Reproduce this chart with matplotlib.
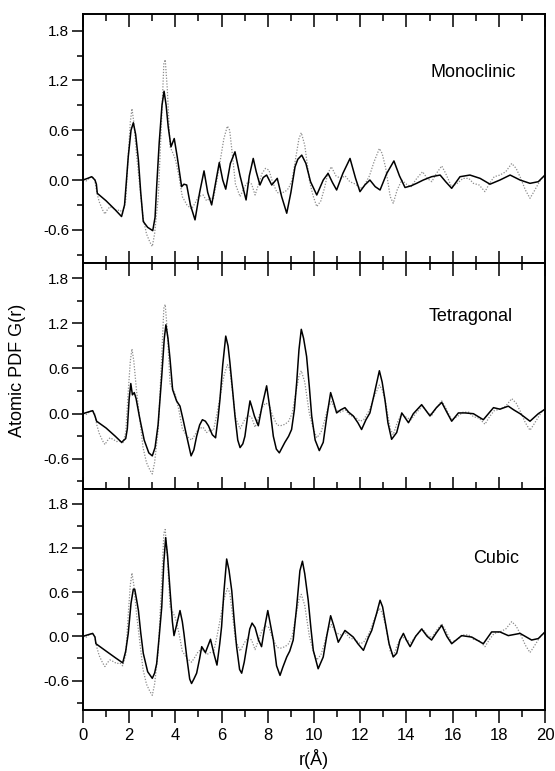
import matplotlib
matplotlib.use("Agg")
import matplotlib.pyplot as plt
from matplotlib.ticker import MultipleLocator

plt.rcParams['font.family'] = ['Liberation Sans', 'DejaVu Sans']
plt.rcParams['axes.unicode_minus'] = False

# experimental PDF (same data in all three panels)
r_exp = [0.0, 0.15, 0.3, 0.4, 0.5, 0.6, 0.7, 0.85, 0.95, 1.05, 1.17, 1.3, 1.46, 1.6, 1.72,
         1.85, 1.96, 2.05, 2.12, 2.2, 2.32, 2.45, 2.6, 2.75, 2.9, 3.0, 3.1, 3.26, 3.4, 3.5,
         3.56, 3.65, 3.77, 3.9, 4.0, 4.15, 4.3, 4.5, 4.7, 4.85, 5.0, 5.2, 5.35, 5.5, 5.65,
         5.8, 5.95, 6.1, 6.25, 6.35, 6.45, 6.6, 6.8, 7.0, 7.15, 7.3, 7.45, 7.6, 7.75, 7.9,
         8.05, 8.2, 8.4, 8.55, 8.75, 8.9, 9.05, 9.2, 9.35, 9.45, 9.6, 9.8, 9.95, 10.12,
         10.3, 10.45, 10.6, 10.75, 10.95, 11.15, 11.35, 11.55, 11.8, 12.0, 12.15, 12.4, 12.6,
         12.83, 12.95, 13.1, 13.3, 13.43, 13.6, 13.8, 14.0, 14.2, 14.45, 14.7, 14.9, 15.1,
         15.3, 15.53, 15.7, 15.95, 16.2, 16.45, 16.7, 16.9, 17.15, 17.4, 17.6, 17.8, 18.05,
         18.3, 18.56, 18.75, 18.95, 19.15, 19.35, 19.5, 19.7, 19.85, 20.0]
g_exp = [0.0, -0.01, 0.03, 0.04, 0.01, -0.15, -0.26, -0.36, -0.41, -0.36, -0.32, -0.34, -0.37,
         -0.36, -0.40, -0.25, 0.30, 0.70, 0.86, 0.70, 0.30, -0.05, -0.45, -0.65, -0.75, -0.80,
         -0.65, -0.20, 0.70, 1.40, 1.45, 1.10, 0.40, 0.32, 0.25, 0.05, -0.20, -0.30, -0.35,
         -0.28, -0.20, -0.18, -0.25, -0.22, -0.22, 0.0, 0.25, 0.50, 0.65, 0.60, 0.35, -0.05,
         -0.20, -0.08, -0.02, -0.05, -0.18, -0.05, 0.08, 0.14, 0.12, -0.02, -0.15, -0.16,
         -0.14, -0.10, 0.0, 0.25, 0.50, 0.57, 0.42, 0.0, -0.18, -0.32, -0.25, -0.10, 0.08,
         0.16, 0.05, 0.02, 0.05, -0.02, -0.05, -0.10, -0.08, 0.05, 0.22, 0.38, 0.32, 0.15,
         -0.20, -0.28, -0.12, 0.0, -0.05, -0.08, 0.02, 0.10, 0.02, -0.02, 0.08, 0.17, 0.08,
         -0.08, -0.04, 0.02, 0.02, -0.04, -0.06, -0.14, -0.04, 0.04, 0.06, 0.10, 0.20, 0.14,
         0.02, -0.12, -0.22, -0.15, -0.05, 0.02, 0.06]

# model fits
r_mono = [0.0, 0.2, 0.38, 0.52, 0.58, 0.62, 1.0, 1.4, 1.67, 1.8, 1.96, 2.08, 2.18, 2.28, 2.4,
          2.5, 2.61, 2.8, 3.02, 3.12, 3.19, 3.3, 3.42, 3.51, 3.6, 3.69, 3.81, 3.95, 4.08, 4.27,
          4.37, 4.49, 4.65, 4.85, 5.05, 5.24, 5.4, 5.57, 5.75, 5.9, 6.05, 6.18, 6.38, 6.58,
          6.8, 7.06, 7.2, 7.37, 7.5, 7.66, 7.8, 7.95, 8.17, 8.41, 8.6, 8.82, 9.0, 9.18, 9.3,
          9.47, 9.65, 9.85, 10.12, 10.4, 10.61, 10.8, 10.98, 11.25, 11.56, 11.8, 11.99, 12.2,
          12.42, 12.65, 12.86, 13.15, 13.46, 13.7, 13.94, 14.2, 14.44, 14.73, 15.09, 15.46,
          15.7, 15.96, 16.32, 16.75, 17.19, 17.62, 18.05, 18.49, 18.92, 19.35, 19.71, 20.0]
g_mono = [0.0, 0.02, 0.04, 0.0, -0.05, -0.16, -0.25, -0.36, -0.44, -0.30, 0.28, 0.60, 0.69,
          0.55, 0.24, -0.15, -0.50, -0.57, -0.61, -0.45, -0.08, 0.45, 0.90, 1.07, 0.90, 0.64,
          0.40, 0.50, 0.28, -0.08, -0.05, -0.06, -0.30, -0.48, -0.15, 0.11, -0.15, -0.30,
          -0.02, 0.21, 0.0, -0.11, 0.20, 0.34, 0.05, -0.24, 0.05, 0.26, 0.10, -0.06, 0.03,
          0.06, -0.06, 0.02, -0.20, -0.40, -0.15, 0.16, 0.25, 0.30, 0.20, -0.02, -0.18, 0.0,
          0.08, -0.03, -0.12, 0.08, 0.26, 0.02, -0.14, -0.06, 0.0, -0.08, -0.12, 0.08, 0.23,
          0.05, -0.09, -0.07, -0.04, 0.0, 0.04, 0.06, -0.02, -0.10, 0.04, 0.06, 0.02, -0.05,
          0.0, 0.06, 0.0, -0.04, -0.02, 0.06]

r_tetra = [0.0, 0.2, 0.42, 0.52, 0.59, 1.0, 1.4, 1.67, 1.85, 1.92, 2.0, 2.07, 2.14, 2.22, 2.3,
           2.45, 2.65, 2.85, 3.0, 3.12, 3.25, 3.41, 3.52, 3.59, 3.68, 3.77, 3.88, 4.05, 4.2,
           4.35, 4.49, 4.68, 4.8, 4.92, 5.05, 5.17, 5.3, 5.43, 5.6, 5.74, 5.85, 5.93, 6.05,
           6.18, 6.28, 6.36, 6.48, 6.58, 6.7, 6.8, 6.92, 7.01, 7.12, 7.23, 7.32, 7.42, 7.59,
           7.75, 7.95, 8.1, 8.24, 8.37, 8.5, 8.62, 8.74, 8.9, 9.03, 9.15, 9.25, 9.35, 9.45,
           9.55, 9.68, 9.8, 9.9, 10.05, 10.23, 10.4, 10.55, 10.72, 10.85, 10.98, 11.15, 11.34,
           11.5, 11.7, 11.9, 12.06, 12.25, 12.42, 12.6, 12.83, 12.95, 13.07, 13.2, 13.36,
           13.58, 13.8, 14.09, 14.3, 14.66, 15.02, 15.3, 15.53, 15.75, 15.96, 16.25, 16.54,
           16.9, 17.33, 17.77, 18.05, 18.41, 18.65, 18.92, 19.35, 19.71, 20.0]
g_tetra = [0.0, 0.02, 0.04, -0.03, -0.10, -0.19, -0.30, -0.38, -0.33, -0.20, 0.20, 0.40, 0.25,
           0.28, 0.20, -0.05, -0.35, -0.52, -0.56, -0.45, -0.15, 0.50, 1.0, 1.18, 1.0, 0.72,
           0.32, 0.17, 0.10, -0.10, -0.30, -0.56, -0.48, -0.30, -0.15, -0.08, -0.10, -0.16,
           -0.28, -0.32, -0.05, 0.19, 0.65, 1.03, 0.90, 0.68, 0.30, -0.03, -0.35, -0.45, -0.40,
           -0.30, -0.05, 0.17, 0.08, -0.03, -0.16, 0.10, 0.37, 0.05, -0.30, -0.47, -0.52, -0.45,
           -0.38, -0.30, -0.21, 0.05, 0.41, 0.85, 1.12, 1.0, 0.76, 0.35, -0.03, -0.35, -0.49,
           -0.38, -0.05, 0.28, 0.15, 0.01, 0.05, 0.08, 0.02, -0.03, -0.12, -0.21, -0.08, 0.01,
           0.25, 0.57, 0.42, 0.19, -0.12, -0.34, -0.25, 0.01, -0.12, 0.0, 0.12, -0.03, 0.08,
           0.15, 0.02, -0.10, 0.01, 0.01, 0.0, -0.08, 0.08, 0.06, 0.10, 0.05, 0.0, -0.10, 0.0,
           0.06]

r_cubic = [0.0, 0.2, 0.42, 0.52, 0.56, 1.0, 1.4, 1.72, 1.85, 1.96, 2.08, 2.18, 2.24, 2.32, 2.4,
           2.5, 2.61, 2.8, 3.0, 3.1, 3.19, 3.3, 3.41, 3.5, 3.58, 3.66, 3.77, 3.87, 3.94, 4.05,
           4.2, 4.3, 4.37, 4.5, 4.62, 4.7, 4.8, 4.92, 5.05, 5.14, 5.3, 5.52, 5.68, 5.8, 5.92,
           6.0, 6.1, 6.22, 6.32, 6.44, 6.55, 6.65, 6.78, 6.87, 6.98, 7.09, 7.22, 7.32, 7.45,
           7.6, 7.73, 7.88, 8.0, 8.12, 8.24, 8.38, 8.53, 8.65, 8.82, 8.95, 9.1, 9.25, 9.39,
           9.5, 9.6, 9.75, 9.87, 9.97, 10.18, 10.4, 10.55, 10.72, 10.85, 11.05, 11.34, 11.5,
           11.7, 11.9, 12.14, 12.35, 12.5, 12.7, 12.86, 12.97, 13.07, 13.25, 13.43, 13.58,
           13.72, 13.87, 14.0, 14.16, 14.4, 14.66, 14.9, 15.09, 15.3, 15.53, 15.75, 15.96,
           16.39, 16.83, 17.33, 17.69, 18.05, 18.41, 18.92, 19.42, 19.71, 20.0]
g_cubic = [0.0, 0.02, 0.04, -0.01, -0.10, -0.20, -0.29, -0.36, -0.20, 0.04, 0.45, 0.64, 0.64,
           0.50, 0.35, 0.05, -0.23, -0.48, -0.57, -0.50, -0.37, 0.0, 0.40, 1.0, 1.34, 1.10,
           0.62, 0.20, 0.01, 0.15, 0.35, 0.20, 0.04, -0.30, -0.58, -0.64, -0.58, -0.50, -0.30,
           -0.14, -0.22, -0.04, -0.25, -0.39, -0.10, 0.13, 0.60, 1.05, 0.90, 0.62, 0.20, -0.14,
           -0.45, -0.50, -0.35, -0.14, 0.10, 0.18, 0.12, -0.05, -0.14, 0.15, 0.35, 0.15, -0.05,
           -0.40, -0.53, -0.42, -0.28, -0.20, -0.05, 0.40, 0.89, 1.02, 0.85, 0.49, 0.10, -0.19,
           -0.44, -0.28, 0.0, 0.28, 0.15, -0.08, 0.08, 0.04, -0.01, -0.10, -0.19, -0.02, 0.08,
           0.30, 0.49, 0.40, 0.22, -0.10, -0.28, -0.23, -0.05, 0.04, -0.05, -0.14, 0.0, 0.10,
           0.0, -0.05, 0.05, 0.15, 0.0, -0.10, 0.01, -0.01, -0.10, 0.06, 0.06, 0.01, 0.04,
           -0.05, -0.03, 0.06]

panels = [("Monoclinic", r_mono, g_mono, (16.9, 1.29)),
          ("Tetragonal", r_tetra, g_tetra, (16.8, 1.29)),
          ("Cubic", r_cubic, g_cubic, (17.9, 1.06))]

fig = plt.figure(figsize=(5.55, 7.71), dpi=100)
gs = fig.add_gridspec(3, 1, height_ratios=[249, 226, 221], hspace=0,
                      left=0.1495, right=0.982, top=0.9818, bottom=0.0791)
axes = [fig.add_subplot(gs[i]) for i in range(3)]

for i, (ax, (name, r_fit, g_fit, pos)) in enumerate(zip(axes, panels)):
    ax.plot(r_exp, g_exp, color='0.55', lw=0.9, linestyle=(0, (1, 1.3)))
    ax.plot(r_fit, g_fit, color='black', lw=1.1)
    ax.text(pos[0], pos[1], name, ha='center', va='center', fontsize=13)
    ax.set_xlim(0, 20)
    ax.set_ylim(-1.0, 2.0)
    ax.xaxis.set_major_locator(MultipleLocator(2))
    ax.xaxis.set_minor_locator(MultipleLocator(1))
    ax.yaxis.set_major_locator(MultipleLocator(0.6))
    ax.yaxis.set_minor_locator(MultipleLocator(0.3))
    ax.tick_params(axis='y', which='major', direction='out', length=8, width=1.1,
                   labelsize=11, pad=2, right=False)
    ax.tick_params(axis='y', which='minor', direction='out', length=4, width=1.1, right=False)
    for sp in ax.spines.values():
        sp.set_linewidth(1.4)
    if i == 0:
        ax.tick_params(axis='x', which='major', direction='in', length=9, width=1.1,
                       top=True, bottom=False, labelbottom=False)
        ax.tick_params(axis='x', which='minor', direction='in', length=5, width=1.1,
                       top=True, bottom=False)
    elif i == 1:
        ax.tick_params(axis='x', which='major', direction='inout', length=18, width=1.1,
                       top=True, bottom=True, labelbottom=False)
        ax.tick_params(axis='x', which='minor', direction='inout', length=10, width=1.1,
                       top=True, bottom=True)
    else:
        ax.tick_params(axis='x', which='major', direction='out', length=9, width=1.1,
                       top=False, bottom=True, labelsize=12, pad=4)
        ax.tick_params(axis='x', which='minor', direction='out', length=5, width=1.1,
                       top=False, bottom=True)
        ax.set_xlabel("r(Å)", fontsize=13, labelpad=4)

fig.text(0.031, 0.52, "Atomic PDF G(r)", rotation=90, ha='center', va='center', fontsize=13)

fig.savefig("out.png", dpi=100)
